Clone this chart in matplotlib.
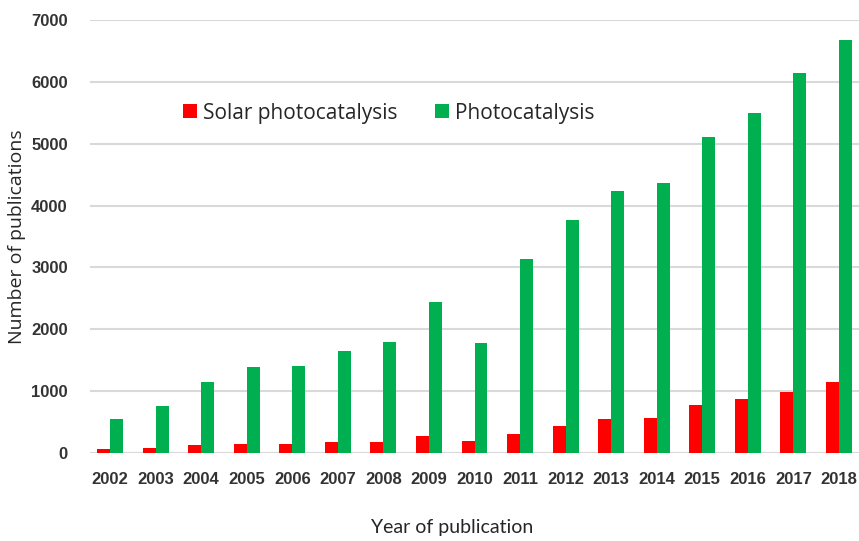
import matplotlib
matplotlib.use('Agg')
import matplotlib.pyplot as plt
import numpy as np

years = ['2002', '2003', '2004', '2005', '2006', '2007', '2008', '2009', '2010',
         '2011', '2012', '2013', '2014', '2015', '2016', '2017', '2018']
solar = [65, 87, 125, 140, 140, 173, 173, 270, 200,
         314, 432, 550, 566, 772, 880, 993, 1155]
photo = [545, 760, 1148, 1385, 1402, 1649, 1794, 2435, 1777,
         3131, 3772, 4230, 4365, 5100, 5495, 6145, 6670]

red = '#ff0000'
green = '#00b050'
tick_col = '#333333'
text_col = '#262626'

fig = plt.figure(figsize=(8.59, 5.41), dpi=100)
ax = fig.add_axes([0.1048, 0.1627, 0.8952, 0.8004])

x = np.arange(len(years))
w = 0.285
ax.bar(x - w / 2, solar, w, color=red, label='Solar photocatalysis', zorder=3)
ax.bar(x + w / 2, photo, w, color=green, label='Photocatalysis', zorder=3)

ax.set_ylim(0, 7000)
ax.set_xlim(-0.44, 16.44)
ax.set_yticks(range(0, 7001, 1000))
ax.set_xticks(x)
ax.set_xticklabels(years)
ax.yaxis.grid(True, color='#d9d9d9', linewidth=1.5, zorder=0)
ax.axhline(0, color='#d9d9d9', linewidth=1.5, zorder=1)
for s in ax.spines.values():
    s.set_visible(False)
ax.tick_params(length=0, labelcolor=tick_col)
ax.tick_params(axis='y', pad=16)
ax.tick_params(axis='x', pad=14)
for lbl in ax.get_xticklabels() + ax.get_yticklabels():
    lbl.set_fontfamily('Liberation Sans')
    lbl.set_fontweight('bold')
    lbl.set_fontsize(12)

# axis titles placed in figure coordinates
fig.text(17 / 859, 1 - 237 / 541, 'Number of publications', rotation=90,
         ha='center', va='center', fontsize=14, family='Open Sans', color=text_col)
fig.text(452 / 859, 1 - 527 / 541, 'Year of publication',
         ha='center', va='center', fontsize=14, family='Lato', color=text_col)

ax.legend(loc='center', bbox_to_anchor=(389 / 859, 1 - 113 / 541),
          bbox_transform=fig.transFigure, ncol=2, frameon=False,
          prop={'family': 'Open Sans', 'size': 15}, handlelength=0.65,
          handleheight=0.65, handletextpad=0.3, columnspacing=1.8,
          labelcolor=text_col)

fig.savefig('out.png', dpi=100)
